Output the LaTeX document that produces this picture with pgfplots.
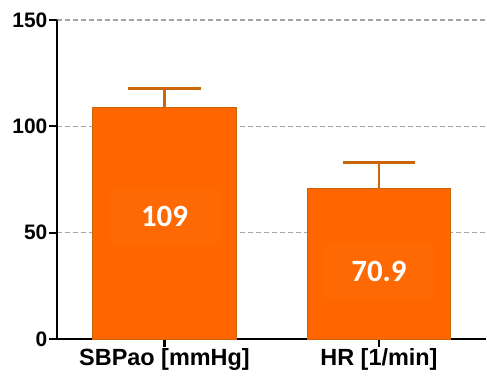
\documentclass[border=0pt]{standalone}
\usepackage{pgfplots}
\pgfplotsset{compat=1.18}
\usepackage{fontspec}
\setmainfont{Liberation Sans}
\newfontfamily\valuefont{Carlito}

\definecolor{barfill}{RGB}{255,102,0}
\definecolor{baredge}{RGB}{204,102,10}
\definecolor{labelbox}{RGB}{255,105,4}
\definecolor{gridgray}{RGB}{165,165,165}

\begin{document}
\begin{tikzpicture}
\begin{axis}[
  scale only axis,
  width=430pt, height=320pt,
  xmin=-0.502, xmax=1.498,
  ymin=0, ymax=150,
  axis lines*=left,
  axis line style={line width=2.5pt, black},
  xtick={0,1},
  xticklabels={SBPao [mmHg], HR [1/min]},
  ytick={0,50,100,150},
  tick align=outside,
  major tick length=8pt,
  tick style={line width=2.2pt, black},
  ymajorgrids,
  grid style={dash pattern=on 5pt off 3pt, gridgray, line width=1.4pt},
  /pgf/number format/assume math mode=true,
  yticklabel style={font=\fontsize{21}{25}\selectfont\bfseries, xshift=2pt},
  xticklabel style={font=\fontsize{23.5}{28}\selectfont\bfseries, yshift=2pt},
  clip=false,
]
% mean values with upper SD whiskers
\addplot[
  ybar, bar width=0.67,
  fill=barfill, draw=baredge, line width=1.2pt,
  error bars/.cd,
    y dir=plus, y explicit,
    error bar style={line width=2.5pt, baredge},
    error mark options={rotate=90, mark size=36.5pt, line width=2.5pt, baredge},
] coordinates {
  (0,109)  +- (0,8.7)
  (1,70.9) +- (0,12.1)
};
% value labels inside the bars
\node[fill=labelbox, minimum width=111pt, minimum height=54pt, text=white,
      font=\valuefont\fontsize{31}{35}\selectfont\bfseries]
  at (axis cs:0,57.6) {109};
\node[fill=labelbox, minimum width=111pt, minimum height=54pt, text=white,
      font=\valuefont\fontsize{31}{35}\selectfont\bfseries]
  at (axis cs:1,31.9) {70.9};
\end{axis}
\path (-57pt,-41pt) (430pt,340pt);
\end{tikzpicture}
\end{document}
